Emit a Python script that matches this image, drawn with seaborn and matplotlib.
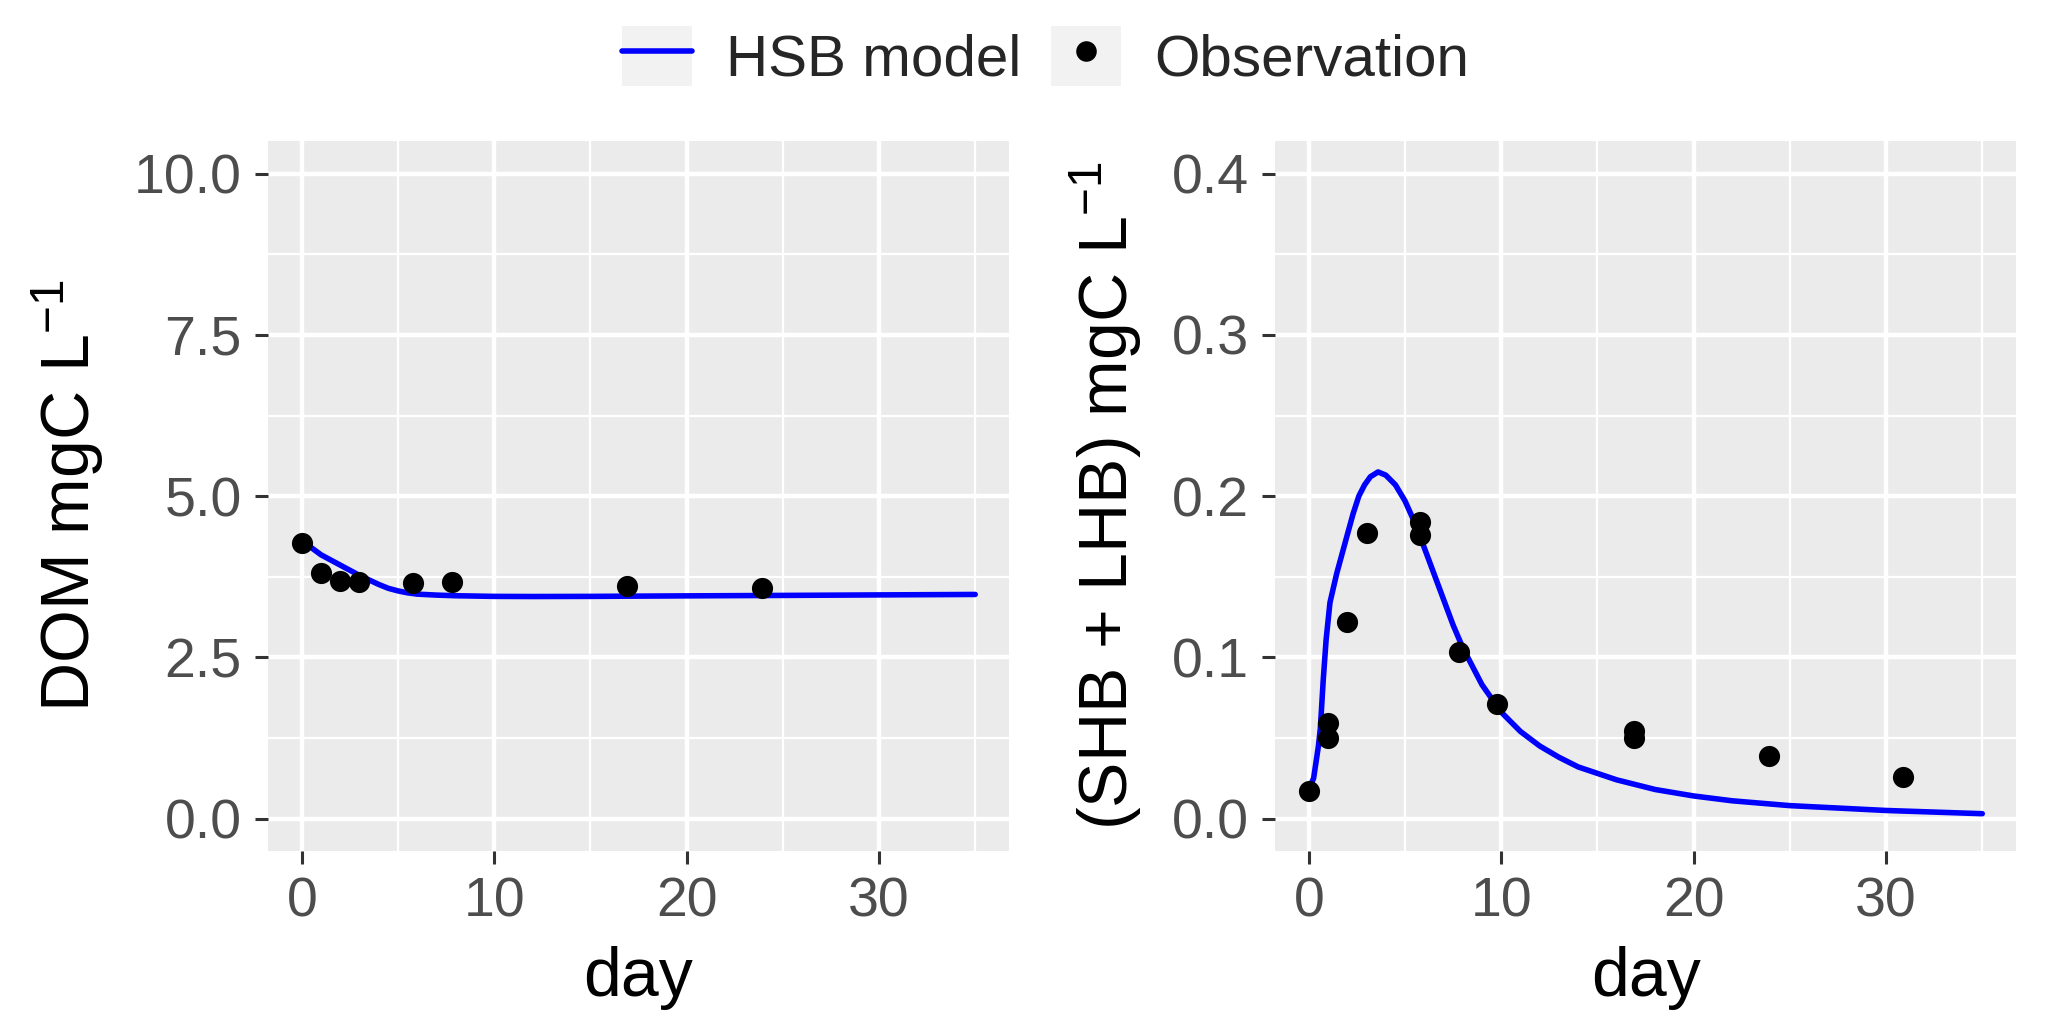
import matplotlib
matplotlib.use("Agg")
import matplotlib.pyplot as plt
import seaborn as sns
from matplotlib.lines import Line2D
from matplotlib.patches import Rectangle
from matplotlib.legend_handler import HandlerLine2D
from matplotlib.ticker import MultipleLocator

# DOM panel: model curve and observations
dom_model_day = [0, 0.5, 1, 1.5, 2, 2.5, 3, 3.5, 4, 4.5, 5, 5.5, 6, 7, 8, 10, 12, 15, 20, 25, 30, 35]
dom_model = [4.33, 4.20, 4.09, 4.01, 3.93, 3.85, 3.77, 3.70, 3.63, 3.57, 3.53, 3.50, 3.48, 3.465,
             3.455, 3.445, 3.443, 3.445, 3.453, 3.46, 3.468, 3.475]
dom_obs_day = [0, 1, 2, 3, 5.8, 7.8, 16.9, 23.9]
dom_obs = [4.27, 3.81, 3.68, 3.67, 3.65, 3.67, 3.60, 3.58]

# (SHB + LHB) panel
hb_model_day = [0, 0.25, 0.5, 0.6, 0.75, 0.9, 1.1, 1.45, 2.0, 2.3, 2.6, 2.9, 3.2, 3.6, 4.0, 4.5,
                5.0, 5.6, 6.0, 6.5, 7.0, 7.5, 8.0, 9.0, 10, 11, 12, 13, 14, 16, 18, 20, 22, 25, 30, 35]
hb_model = [0.018, 0.025, 0.045, 0.056, 0.086, 0.111, 0.134, 0.152, 0.176, 0.189, 0.200, 0.207,
            0.212, 0.215, 0.213, 0.207, 0.197, 0.181, 0.168, 0.152, 0.136, 0.120, 0.106, 0.083,
            0.066, 0.054, 0.045, 0.038, 0.032, 0.024, 0.018, 0.014, 0.011, 0.008, 0.005, 0.003]
hb_obs_day = [0, 1, 1, 2, 3, 5.8, 5.8, 7.8, 9.8, 16.9, 16.9, 23.9, 30.9]
hb_obs = [0.017, 0.059, 0.050, 0.122, 0.177, 0.184, 0.176, 0.103, 0.071, 0.054, 0.050, 0.039, 0.026]

x_ticks = [0, 10, 20, 30]
dom_ticks = [0.0, 2.5, 5.0, 7.5, 10.0]
hb_ticks = [0.0, 0.1, 0.2, 0.3, 0.4]

sns.set_theme(style="darkgrid")
plt.rcParams["font.family"] = ["Liberation Sans", "DejaVu Sans"]
plt.rcParams["mathtext.fontset"] = "custom"
plt.rcParams["mathtext.rm"] = "Liberation Sans"
plt.rcParams["mathtext.it"] = "Liberation Sans:italic"
plt.rcParams["mathtext.bf"] = "Liberation Sans:bold"

fig = plt.figure(figsize=(10.335, 5.14), dpi=200)
fig.patch.set_facecolor("white")
ax1 = fig.add_axes([0.1297, 0.1724, 0.3584, 0.690])
ax2 = fig.add_axes([0.6169, 0.1724, 0.3584, 0.690])

panels = [
    (ax1, dom_model_day, dom_model, dom_obs_day, dom_obs, dom_ticks, 1.25, (-0.5, 10.5),
     "DOM mgC L$^{-1}$"),
    (ax2, hb_model_day, hb_model, hb_obs_day, hb_obs, hb_ticks, 0.05, (-0.02, 0.42),
     "(SHB + LHB) mgC L$^{-1}$"),
]

for ax, mday, mval, oday, oval, yt, yminor, ylim, ylab in panels:
    ax.set_facecolor("#EBEBEB")
    sns.lineplot(x=mday, y=mval, ax=ax, color="#0000FF", linewidth=2.0, zorder=3)
    sns.scatterplot(x=oday, y=oval, ax=ax, color="black", s=58, linewidth=0, zorder=4)
    ax.set_xlim(-1.75, 36.75)
    ax.set_ylim(*ylim)
    ax.set_xticks(x_ticks, labels=[str(v) for v in x_ticks])
    ax.set_yticks(yt, labels=[f"{v:.1f}" for v in yt])
    ax.xaxis.set_minor_locator(MultipleLocator(5))
    ax.yaxis.set_minor_locator(MultipleLocator(yminor))
    ax.grid(which="major", color="white", linewidth=1.6)
    ax.grid(which="minor", color="white", linewidth=0.8)
    ax.set_axisbelow(True)
    for s in ax.spines.values():
        s.set_visible(False)
    ax.tick_params(which="major", length=4.7, width=1.1, color="#333333",
                   labelcolor="#4D4D4D", labelsize=20, pad=4.7,
                   bottom=True, left=True)
    ax.tick_params(which="minor", length=0)
    ax.set_xlabel("day", fontsize=24.5, color="black", labelpad=6)
    ax.set_ylabel(ylab, fontsize=24.5, color="black", labelpad=10)


class KeyBox(HandlerLine2D):
    def create_artists(self, legend, orig_handle, xdescent, ydescent, width, height, fontsize, trans):
        box = Rectangle((-xdescent, -ydescent), width, height, facecolor="#F2F2F2",
                        edgecolor="none", transform=trans)
        arts = super().create_artists(legend, orig_handle, xdescent, ydescent, width, height,
                                      fontsize, trans)
        return [box] + arts


handles = [
    Line2D([], [], color="#0000FF", linewidth=2.0),
    Line2D([], [], color="black", linestyle="none", marker="o", markersize=7.4, markeredgewidth=0),
]
fig.legend(handles, ["HSB model", "Observation"], loc="center", bbox_to_anchor=(0.506, 0.945),
           ncol=2, frameon=False, fontsize=21, numpoints=1, handlelength=1.2, handleheight=1.2,
           handletextpad=0.58, columnspacing=0.5,
           handler_map={Line2D: KeyBox()})

fig.savefig("out.png", dpi=200, facecolor="white")
